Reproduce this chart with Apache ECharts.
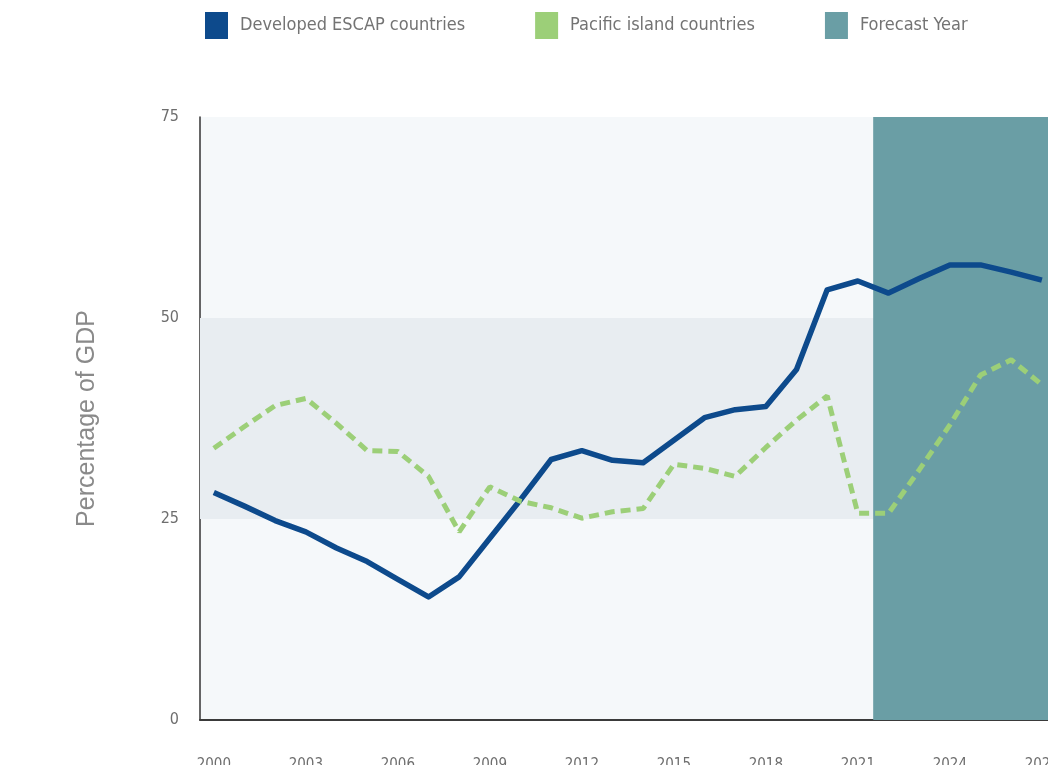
<!DOCTYPE html>
<html>
<head>
<meta charset="utf-8">
<title>Percentage of GDP</title>
<script src="https://cdn.jsdelivr.net/npm/echarts@6/dist/echarts.min.js"></script>
<style>
  html, body { margin: 0; padding: 0; background: #ffffff; }
  #chart { width: 1048px; height: 765px; }
</style>
</head>
<body>
<div id="chart"></div>
<script>
// values
const years = [2000, 2001, 2002, 2003, 2004, 2005, 2006, 2007, 2008, 2009,
  2010, 2011, 2012, 2013, 2014, 2015, 2016, 2017, 2018, 2019,
  2020, 2021, 2022, 2023, 2024, 2025, 2026, 2027]
const developed = [28.3, 26.6, 24.8, 23.4, 21.4, 19.7, 17.5, 15.3, 17.8, 22.6,
  27.4, 32.4, 33.5, 32.3, 32.0, 34.8, 37.6, 38.6, 39.0, 43.6,
  53.5, 54.6, 53.1, 54.9, 56.6, 56.6, 55.7, 54.7]
const pacific = [33.8, 36.5, 39.1, 40.0, 36.9, 33.5, 33.4, 30.3, 23.4, 29.0,
  27.2, 26.4, 25.1, 25.9, 26.3, 31.8, 31.3, 30.3, 33.9, 37.3,
  40.3, 25.7, 25.7, 31.1, 36.7, 42.9, 44.8, 41.7]
const xTickLabels = [2000, 2003, 2006, 2009, 2012, 2015, 2018, 2021, 2024, 2027]
const yTicks = [0, 25, 50, 75]
const bandRange = [25, 50]
const forecastStart = 2021.5
const xMin = 1999.55
const xMax = 2027.2

const seriesNames = ['Developed ESCAP countries', 'Pacific island countries', 'Forecast Year']
const colors = { developed: '#0d4a8c', pacific: '#9ccf78', forecast: '#6a9ea5' }

const narrow = "'Liberation Sans Narrow', 'DejaVu Sans Condensed', sans-serif"

const chart = echarts.init(document.getElementById('chart'), null, { renderer: 'canvas' })

const option = {
  animation: false,
  grid: {
    left: 200,
    right: 0,
    top: 117,
    bottom: 45,
    outerBoundsMode: 'none',
    containLabel: false,
    show: true,
    backgroundColor: '#f5f8fa',
    borderWidth: 0
  },
  legend: {
    left: 200,
    top: 7,
    itemWidth: 23,
    itemHeight: 27,
    itemGap: 70,
    itemStyle: { borderWidth: 0 },
    textStyle: { color: '#737373', fontSize: 18, fontFamily: narrow, padding: [0, 0, 0, 7] },
    data: seriesNames.map(n => ({ name: n, icon: 'rect' }))
  },
  xAxis: {
    type: 'value',
    min: xMin,
    max: xMax,
    axisLine: { onZero: false, lineStyle: { color: '#3a3a3a', width: 2 } },
    axisTick: { show: false },
    splitLine: { show: false },
    axisLabel: {
      customValues: xTickLabels,
      formatter: v => String(v),
      margin: 38,
      color: '#6e6e6e',
      fontSize: 15,
      fontFamily: narrow
    }
  },
  yAxis: {
    type: 'value',
    min: yTicks[0],
    max: yTicks[yTicks.length - 1],
    interval: 25,
    name: 'Percentage of GDP',
    nameLocation: 'middle',
    nameGap: 100,
    nameTextStyle: { color: '#8a8a8a', fontSize: 25, fontFamily: "'Liberation Sans', Arial, sans-serif" },
    axisLine: { show: true, onZero: false, lineStyle: { color: '#333333', width: 1.5 } },
    axisTick: { show: false },
    splitLine: { show: false },
    axisLabel: { margin: 21, color: '#6e6e6e', fontSize: 16, fontFamily: narrow }
  },
  series: [
    {
      name: 'band',
      type: 'line',
      data: [],
      silent: true,
      markArea: {
        silent: true,
        z: 1,
        itemStyle: { color: '#e8edf1' },
        data: [[{ yAxis: bandRange[0] }, { yAxis: bandRange[1] }]]
      }
    },
    {
      name: seriesNames[2],
      type: 'line',
      data: [],
      itemStyle: { color: colors.forecast },
      lineStyle: { color: colors.forecast },
      markArea: {
        silent: true,
        z: 1.5,
        itemStyle: { color: colors.forecast },
        data: [[{ xAxis: forecastStart }, { xAxis: xMax }]]
      }
    },
    {
      name: seriesNames[0],
      type: 'line',
      data: years.map((y, i) => [y, developed[i]]),
      symbol: 'none',
      z: 3,
      itemStyle: { color: colors.developed },
      lineStyle: { color: colors.developed, width: 5.5, join: 'round' }
    },
    {
      name: seriesNames[1],
      type: 'line',
      data: years.map((y, i) => [y, pacific[i]]),
      symbol: 'none',
      z: 3,
      itemStyle: { color: colors.pacific },
      lineStyle: { color: colors.pacific, width: 5, type: [10, 6] }
    }
  ]
}

chart.setOption(option)
window.addEventListener('resize', () => chart.resize())
</script>
</body>
</html>
